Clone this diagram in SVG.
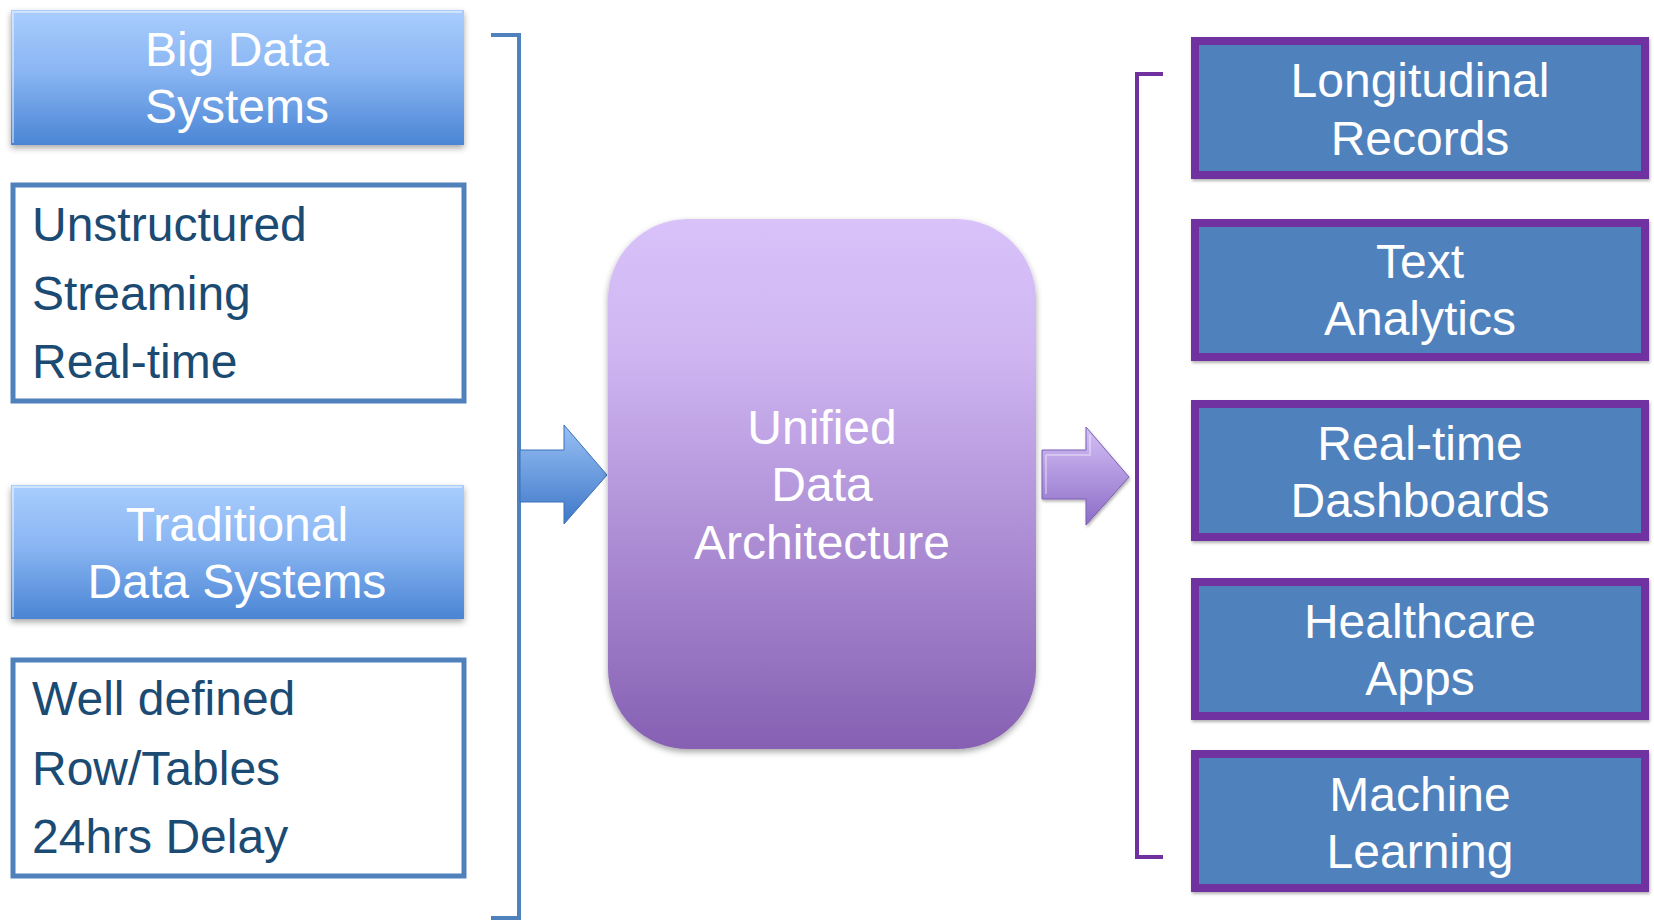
<svg xmlns="http://www.w3.org/2000/svg" width="1654" height="922" viewBox="0 0 1654 922">
<defs>
<linearGradient id="gBlue" x1="0" y1="0" x2="0" y2="1">
<stop offset="0" stop-color="#a9cdfd"/>
<stop offset="0.45" stop-color="#8ab6f3"/>
<stop offset="1" stop-color="#4a85d4"/>
</linearGradient>
<linearGradient id="gPurple" x1="0" y1="0" x2="0" y2="1">
<stop offset="0" stop-color="#d8c2f9"/>
<stop offset="0.25" stop-color="#cfb6f2"/>
<stop offset="1" stop-color="#8660b3"/>
</linearGradient>
<linearGradient id="gArrowB" x1="0" y1="0" x2="0" y2="1">
<stop offset="0" stop-color="#98c0f4"/>
<stop offset="1" stop-color="#3e78c8"/>
</linearGradient>
<linearGradient id="gArrowP" x1="0" y1="0" x2="0" y2="1">
<stop offset="0" stop-color="#d4c0f6"/>
<stop offset="1" stop-color="#8c6cc6"/>
</linearGradient>
<filter id="sh" x="-10%" y="-10%" width="120%" height="130%">
<feDropShadow dx="0" dy="3" stdDeviation="3" flood-color="#000" flood-opacity="0.35"/>
</filter>
<filter id="sh2" x="-10%" y="-10%" width="120%" height="130%">
<feDropShadow dx="1" dy="2" stdDeviation="1.5" flood-color="#000" flood-opacity="0.3"/>
</filter>
</defs>
<style>
.w{font-family:"Liberation Sans",Arial,sans-serif;font-size:48px;fill:#ffffff;text-anchor:middle}
.d{font-family:"Liberation Sans",Arial,sans-serif;font-size:48px;fill:#1b4b73}
.hdr{fill:url(#gBlue);filter:url(#sh)}
.bev{fill:none;stroke:#ffffff;stroke-opacity:0.45;stroke-width:2}
.lst{fill:#ffffff;stroke:#4f81bd;stroke-width:5}
.out{fill:#4f81bd;stroke:#7030a0;stroke-width:8;filter:url(#sh2)}
</style>
<rect width="1654" height="922" fill="#ffffff"/>

<g id="connectors">
<path d="M491 35 L519 35 L519 918 L491 918" fill="none" stroke="#4f81bd" stroke-width="4"/>
<path d="M1163 74 L1137 74 L1137 857 L1163 857" fill="none" stroke="#7030a0" stroke-width="4"/>
<g id="arrow-in">
<path d="M520 450 L564 450 L564 425 L607 475 L564 524 L564 502 L520 502 Z" fill="url(#gArrowB)" stroke="#3b70b8" stroke-width="1"/>
</g>
<g id="arrow-out">
<path d="M1042 450 L1086 450 L1086 427 L1129 477 L1086 525 L1086 499 L1042 499 Z" fill="url(#gArrowP)" stroke="#7d5fb3" stroke-width="1" filter="url(#sh2)"/>
<path d="M1046 455 L1090 455 L1090 435 M1046 455 L1046 494" fill="none" stroke="#ffffff" stroke-opacity="0.35" stroke-width="2"/>
</g>
</g>

<g id="big-data">
<rect class="hdr" x="11" y="10" width="453" height="135"/>
<path class="bev" d="M13 143 L13 12 L462 12"/>
<text class="w" x="237" y="66">Big Data</text>
<text class="w" x="237" y="123">Systems</text>
</g>

<g id="big-data-list">
<rect class="lst" x="13" y="185" width="451" height="216"/>
<text class="d" x="32" y="241">Unstructured</text>
<text class="d" x="32" y="310">Streaming</text>
<text class="d" x="32" y="378">Real-time</text>
</g>

<g id="traditional">
<rect class="hdr" x="11" y="485" width="453" height="134"/>
<path class="bev" d="M13 617 L13 487 L462 487"/>
<text class="w" x="237" y="541">Traditional</text>
<text class="w" x="237" y="598">Data Systems</text>
</g>

<g id="traditional-list">
<rect class="lst" x="13" y="660" width="451" height="216"/>
<text class="d" x="32" y="715">Well defined</text>
<text class="d" x="32" y="785">Row/Tables</text>
<text class="d" x="32" y="853">24hrs Delay</text>
</g>

<g id="unified">
<rect x="608" y="219" width="428" height="530" rx="80" ry="80" fill="url(#gPurple)" filter="url(#sh)"/>
<text class="w" x="822" y="444">Unified</text>
<text class="w" x="822" y="501">Data</text>
<text class="w" x="822" y="559">Architecture</text>
</g>

<g id="longitudinal">
<rect class="out" x="1195" y="41" width="450" height="134"/>
<text class="w" x="1420" y="97">Longitudinal</text>
<text class="w" x="1420" y="155">Records</text>
</g>
<g id="text-analytics">
<rect class="out" x="1195" y="223" width="450" height="134"/>
<text class="w" x="1420" y="278">Text</text>
<text class="w" x="1420" y="335">Analytics</text>
</g>
<g id="dashboards">
<rect class="out" x="1195" y="404" width="450" height="133"/>
<text class="w" x="1420" y="460">Real-time</text>
<text class="w" x="1420" y="517">Dashboards</text>
</g>
<g id="healthcare">
<rect class="out" x="1195" y="582" width="450" height="134"/>
<text class="w" x="1420" y="638">Healthcare</text>
<text class="w" x="1420" y="695">Apps</text>
</g>
<g id="ml">
<rect class="out" x="1195" y="754" width="450" height="134"/>
<text class="w" x="1420" y="811">Machine</text>
<text class="w" x="1420" y="868">Learning</text>
</g>
</svg>
